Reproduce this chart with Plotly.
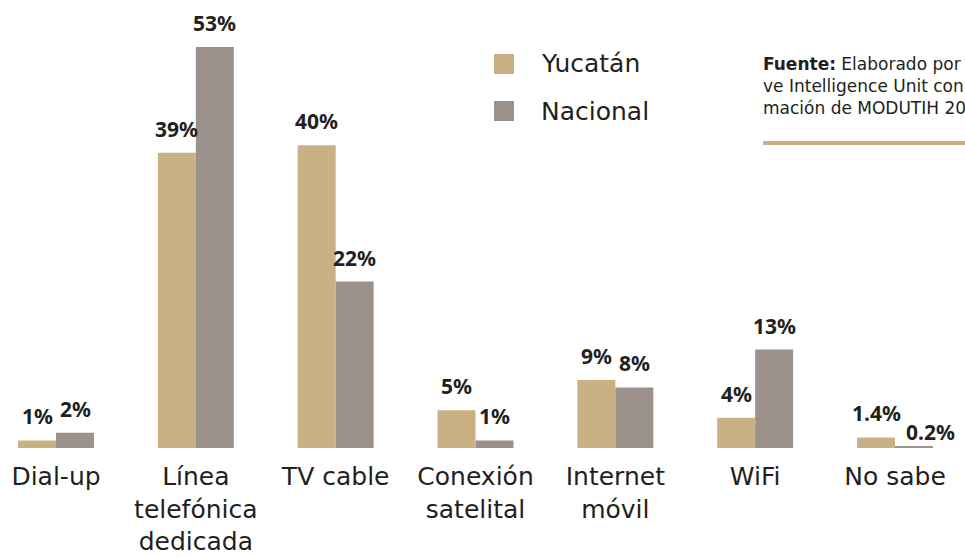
import plotly.graph_objects as go

# --- datos ---
categorias = ["Dial-up", "Línea<br>telefónica<br>dedicada", "TV cable", "Conexión<br>satelital",
              "Internet<br>móvil", "WiFi", "No sabe"]
yucatan = [1, 39, 40, 5, 9, 4, 1.4]
nacional = [2, 53, 22, 1, 8, 13, 0.2]
etiquetas_yuc = ["1%", "39%", "40%", "5%", "9%", "4%", "1.4%"]
etiquetas_nac = ["2%", "53%", "22%", "1%", "8%", "13%", "0.2%"]
series = ["Yucatán", "Nacional"]
fuente = ("<b>Fuente:</b> Elaborado por The Competiti-<br>"
          "ve Intelligence Unit con infor-<br>"
          "mación de MODUTIH 2016.")

COLOR_YUC = "#c9b184"
COLOR_NAC = "#9b918a"
TEXTO = "#231f20"
FUENTE = "DejaVu Sans"
FUENTE_NUM = "Noto Sans"

fig = go.Figure()
fig.add_trace(go.Bar(x=categorias, y=yucatan, name=series[0], marker_color=COLOR_YUC,
                     marker_line_width=0, showlegend=False))
fig.add_trace(go.Bar(x=categorias, y=nacional, name=series[1], marker_color=COLOR_NAC,
                     marker_line_width=0, showlegend=False))

# etiquetas de valor
fuente_num = dict(family=FUENTE_NUM, size=21, color=TEXTO, weight="bold")
for i, cat in enumerate(categorias):
    fig.add_annotation(x=cat, y=yucatan[i], text=etiquetas_yuc[i], showarrow=False,
                       xshift=-19, yanchor="bottom", yshift=8, font=fuente_num)
    if i == len(categorias) - 1:
        # la barra nacional es casi nula: etiqueta al lado
        fig.add_annotation(x=cat, y=nacional[i], text=etiquetas_nac[i], showarrow=False,
                           xshift=9, xanchor="left", yanchor="bottom", yshift=-2,
                           font=fuente_num)
    else:
        fig.add_annotation(x=cat, y=nacional[i], text=etiquetas_nac[i], showarrow=False,
                           xshift=19, yanchor="bottom", yshift=8, font=fuente_num)

# leyenda manual (cuadros grandes)
for k, (nombre, color) in enumerate([(series[0], COLOR_YUC), (series[1], COLOR_NAC)]):
    y_c = 1 - (64 + 47 * k) / 448
    fig.add_shape(type="rect", xref="paper", yref="paper",
                  x0=494 / 965, x1=514 / 965, y0=y_c - 10 / 448, y1=y_c + 10 / 448,
                  fillcolor=color, line_width=0)
    fig.add_annotation(xref="paper", yref="paper", x=539 / 965, y=y_c, text=nombre,
                       showarrow=False, xanchor="left", yanchor="middle",
                       font=dict(family=FUENTE, size=25, color=TEXTO))

# nota de fuente
fig.add_annotation(xref="paper", yref="paper", x=761 / 965, y=1 - 52 / 448, text=fuente,
                   showarrow=False, xanchor="left", yanchor="top", align="left",
                   font=dict(family=FUENTE, size=17, color=TEXTO))
fig.add_shape(type="line", xref="paper", yref="paper", x0=763 / 965, x1=1.05,
              y0=1 - 143 / 448, y1=1 - 143 / 448, line=dict(color=COLOR_YUC, width=4))

fig.update_layout(
    width=965, height=557,
    margin=dict(l=0, r=0, t=0, b=109),
    barmode="group", bargap=0.457, bargroupgap=0,
    plot_bgcolor="white", paper_bgcolor="white",
    font=dict(family=FUENTE, color=TEXTO),
    xaxis=dict(range=[-0.4005, 6.5005], showgrid=False, showline=False, ticks="",
               tickfont=dict(size=25, color=TEXTO), ticklabelstandoff=11,
               fixedrange=True),
    yaxis=dict(range=[0, 59.2], visible=False, fixedrange=True),
)

# sin margen del body para que la figura ocupe la ventana exacta
fig.write_html("out.html", config={"displayModeBar": False},
               post_script="document.body.style.margin='0';")
